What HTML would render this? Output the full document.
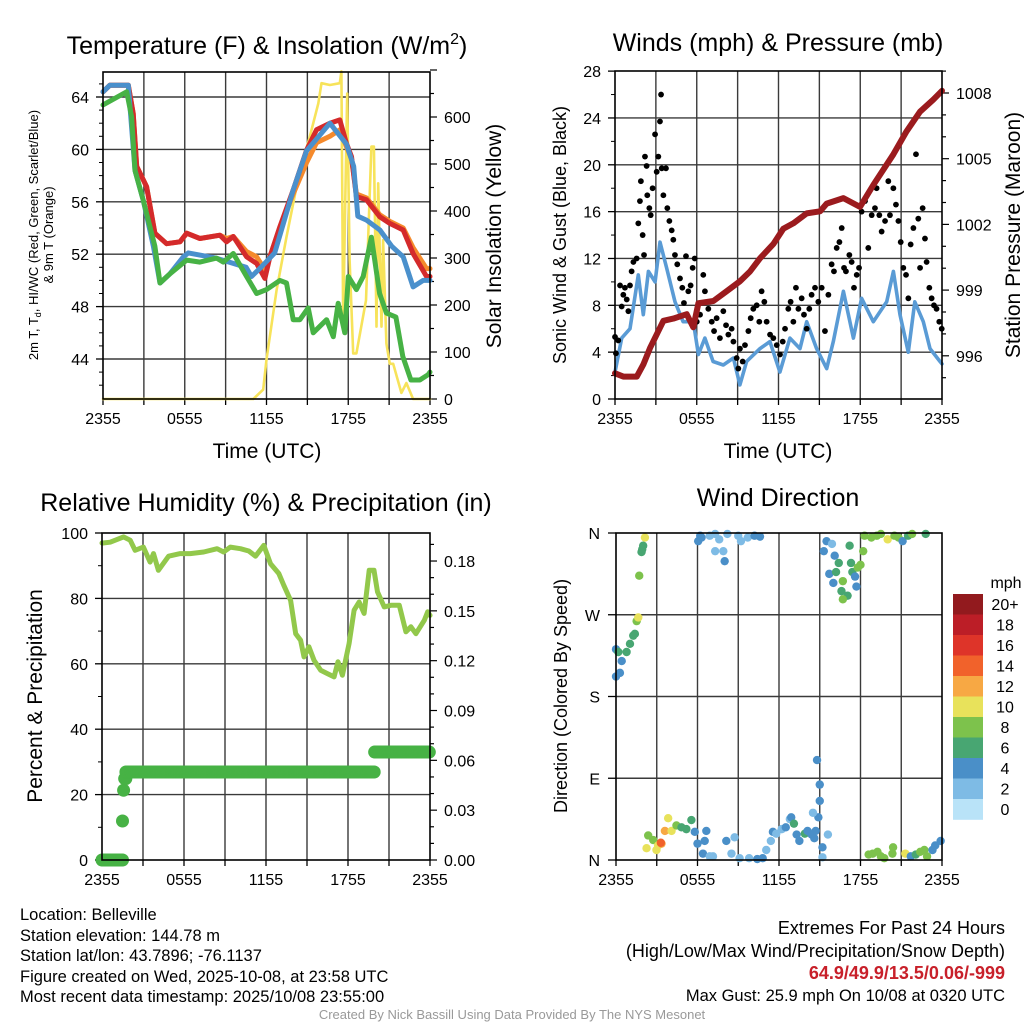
<!DOCTYPE html>
<html><head><meta charset="utf-8"><style>
body{margin:0;background:#fff;width:1024px;height:1024px;overflow:hidden;font-family:"Liberation Sans",sans-serif}
svg{display:block}
</style></head><body>
<svg id="s" width="1024" height="1024" viewBox="0 0 1024 1024" xmlns="http://www.w3.org/2000/svg" font-family="Liberation Sans, sans-serif"></svg>
<script>
// ---------- DATA ----------
const xTickLabels=["2355","0555","1155","1755","2355"];
const tempTimes=[0,0.51,1.86,2.22,2.47,3.2,3.81,4.67,5.65,6.14,7.11,8.58,9.07,9.56,10.54,11.27,11.88,12.25,12.98,13.96,14.94,15.67,16.65,17.38,17.87,18.24,18.6,19.34,20.32,21.05,22.03,22.76,23.74,24];
const tempRed=[64.4,64.9,64.9,62.75,58.7,57.15,53.6,52.8,52.95,53.6,53.2,53.45,52.95,53.35,51.8,51.3,50.15,51.8,54.1,56.9,59.95,61.5,62.0,62.25,60.45,59.45,56.4,56.15,54.85,54.35,53.85,52.05,50.3,50.3];
const tempOrange=[64.4,64.9,64.9,62.75,58.7,57.15,53.6,52.8,52.95,53.6,53.2,53.45,53.2,53.35,52.2,51.8,50.8,51.8,54.0,56.6,59.0,60.5,61.0,61.5,60.2,59.3,56.6,56.3,55.0,54.5,54.0,52.5,50.9,50.9];
const dewTimes=[0,1.74,2.1,2.35,2.96,3.81,4.18,4.9,6.14,7.11,8.34,8.83,9.56,10.54,11.27,12.0,12.98,13.47,13.96,14.45,15.06,15.43,16.41,16.9,17.26,17.75,18.0,18.6,19.1,19.7,20.3,20.8,21.5,22.0,22.6,23.25,23.86,24];
const tempDew=[63.4,64.4,62.5,58.4,56.1,52.6,49.8,50.5,51.55,51.4,51.7,51.4,52.05,50.3,49.0,49.3,50.0,49.8,47.0,47.0,47.9,46.0,47.0,45.7,48.25,46.0,50.3,49.3,50.3,53.3,49.0,47.5,47.2,44.2,42.4,42.4,42.8,43.0];
const hiTimes=[0,0.51,1.86,2.35,2.96,3.7,4.18,4.9,5.9,6.26,8.3,10.5,10.9,11.6,12.6,13.96,14.94,16.65,17.87,18.4,18.7,19.34,20.32,21.2,22.03,22.76,23.5,24];
const tempHI=[64.4,64.9,64.9,58.4,56.1,52.6,49.8,50.5,51.8,52.1,51.7,51.0,50.3,51.0,52.1,56.9,59.9,62.0,60.4,58.7,54.9,54.6,53.85,52.6,51.8,49.5,50.0,50.0];
const solarTimes=[0,11.03,11.76,12.0,12.74,13.47,14.45,15.18,15.8,16.04,16.65,17.38,17.5,17.63,17.75,17.92,18.1,18.36,18.6,19.3,19.7,19.88,20.07,20.2,20.44,20.56,20.8,21.05,21.3,21.9,22.27,22.76,24];
const solarVals=[0,0,20,84,232,345,487,558,629,672,668,672,697,154,367,650,296,97,97,210,537,537,154,459,154,338,118,75,75,13,34,0,0];
const presTimes=[0,0.61,1.6,2.08,2.57,3.55,4.28,5.26,5.75,6.12,7.22,8.2,9.17,9.91,10.64,11.62,12.35,13.09,14.07,15.05,15.54,16.76,17.98,18.96,20.43,21.4,22.39,23.36,24];
const presVals=[995.2,995.05,995.05,995.6,996.35,997.6,997.7,997.9,997.3,998.4,998.5,998.95,999.4,999.85,1000.45,1001.1,1001.8,1002.05,1002.5,1002.6,1002.95,1003.2,1002.8,1003.8,1005.2,1006.25,1007.15,1007.7,1008.1];
const windTimes=[0,0.49,1.1,1.71,2.08,2.45,2.94,3.3,3.79,4.4,5.0,5.75,6.12,6.6,7.2,7.95,8.69,9.17,9.66,10.64,11.37,12.1,12.84,13.58,14.07,14.8,15.54,16.02,16.76,17.5,18.1,18.96,19.94,20.43,20.92,21.53,22.0,22.63,23.12,23.85,24];
const windVals=[2.3,5.2,6.0,10.6,7.2,10.9,10.0,13.4,11.2,8.3,6.6,6.6,3.8,5.2,3.2,2.9,3.5,1.2,3.2,4.3,4.9,2.3,5.2,4.3,6.6,4.3,2.6,4.9,9.2,5.2,8.6,6.6,8.3,10.9,7.2,4.0,8.3,6.6,4.3,3.2,3.0];
const gustTimes=[0,0.07,0.24,0.37,0.49,0.61,0.73,0.86,0.98,1.1,1.22,1.35,1.59,1.71,1.83,1.9,2.03,2.13,2.2,2.32,2.37,2.52,2.62,2.76,2.94,3.06,3.18,3.3,3.38,3.43,3.55,3.74,3.84,3.99,4.16,4.28,4.4,4.57,4.77,4.94,5.06,5.21,5.38,5.55,5.7,5.85,6.0,6.24,6.48,6.6,6.85,7.1,7.27,7.46,7.7,7.95,8.15,8.32,8.56,8.69,8.93,9.05,9.17,9.37,9.54,9.79,9.96,10.15,10.4,10.59,10.76,10.96,11.13,11.38,11.62,11.87,12.11,12.31,12.48,12.72,12.89,13.09,13.28,13.46,13.7,13.87,14.07,14.26,14.43,14.68,14.92,15.17,15.41,15.66,15.9,16.07,16.27,16.47,16.64,16.81,16.95,17.2,17.37,17.54,17.74,17.91,18.1,18.35,18.59,18.84,19.08,19.2,19.4,19.57,19.82,20.06,20.18,20.43,20.62,20.8,20.97,21.16,21.36,21.53,21.7,21.9,22.09,22.26,22.39,22.58,22.75,22.87,23.07,23.24,23.41,23.6,23.8,23.98];
const gustVals=[5.3,3.9,5.0,9.7,7.9,8.9,9.5,8.5,7.5,9.7,10.9,11.7,12.0,15.0,16.9,18.6,14.0,12.3,20.7,19.9,17.4,16.3,15.7,18.0,22.6,19.4,20.7,23.7,26.0,19.7,17.4,19.7,16.3,15.2,14.4,13.6,12.3,11.5,10.3,9.5,8.2,12.2,9.2,9.7,11.2,12.0,6.6,7.2,10.6,9.2,7.7,6.6,5.8,6.9,5.2,7.5,6.3,5.5,6.0,4.9,3.5,2.6,4.3,3.2,4.6,5.8,6.9,7.7,8.0,6.6,9.2,8.3,6.6,5.5,5.2,4.6,3.8,4.9,6.0,7.7,8.3,6.6,9.5,7.7,8.6,7.2,6.0,7.7,8.9,9.5,8.3,9.5,5.8,8.9,11.5,10.9,12.9,13.4,14.6,11.2,10.9,12.3,11.7,9.5,10.6,11.2,16.0,16.9,12.9,15.7,16.3,18.0,15.7,14.3,15.2,18.6,15.7,18.0,16.6,15.2,13.4,11.2,10.6,8.6,13.2,14.6,20.9,15.4,11.2,16.3,13.7,11.7,9.5,8.6,8.0,7.7,6.6,6.0];
const rhTimes=[0,0.6,1.57,2.06,2.42,3.03,3.52,3.77,4.13,4.87,5.72,6.46,7.44,8.42,8.9,9.39,10.13,10.74,11.23,11.84,12.33,12.94,13.3,13.8,14.17,14.53,14.78,15.14,15.51,16.0,16.49,16.98,17.27,17.59,18.08,18.45,18.81,19.18,19.55,19.9,20.16,20.65,21.14,21.75,22.24,22.6,22.97,23.58,23.83,24];
const rhVals=[96.9,97.2,98.8,97.8,94.7,95.7,91.1,93.7,88.6,92.9,93.7,93.7,94.2,95.2,94.2,95.7,95.2,94.5,92.9,96.2,90.6,87.6,84.0,79.4,69.2,67.2,62.1,65.2,61.1,58.0,57.0,56.0,60.6,56.5,66.2,76.4,78.9,75.4,88.6,88.6,82.0,77.4,77.9,77.9,69.8,71.3,69.2,73.3,75.9,74.8];
const precipStepTimes=[0,1.5,1.58,1.66,1.75,19.95];
const precipStepVals=[0,0.0235,0.042,0.049,0.053,0.065];
const dirTimes=[0,0.29,0.42,0,0.17,0.78,1.03,1.27,1.39,1.52,1.64,1.71,1.88,2.0,2.13,1.93,2.25,2.37,2.74,2.98,3.1,3.35,3.3,3.6,3.84,4.09,4.45,4.82,5.18,5.55,5.8,6.0,6.53,6.4,6.65,6.9,7.14,8.12,8.5,8.73,9.1,9.8,10.4,10.8,11.06,11.4,11.55,11.8,12.2,12.5,12.8,12.9,13.1,13.3,13.5,13.9,14.1,14.4,14.6,14.7,14.9,15.0,15.0,14.8,14.5,15.2,15.6,15.2,6.05,6.2,6.3,6.9,7.3,7.6,7.9,8.0,7.3,8.2,9.0,9.2,9.7,10.2,10.6,15.5,15.3,15.9,16.1,15.7,16.0,16.2,16.4,16.7,16.6,17.05,16.7,17.2,17.3,17.4,17.6,17.7,17.8,18.0,18.2,18.3,18.8,19.2,19.5,20.0,20.5,20.8,21.1,21.5,21.8,22.8,18.6,18.9,19.25,19.5,19.75,20.35,20.4,21.3,21.7,22.07,22.4,22.7,22.9,23.3,23.5,23.9];
const dirVals=[202,206,219,232,229,229,238,247,249,263,267,313,339,346,355,342,13,27,22,11,16,18,19,32,46,32,38,36,34,44,31,18,21,7,32,4,4,21,7,25,2,2,1,2,11,21,31,29,34,36,45,47,40,28,21,29,32,28,24,32,47,65,83,110,52,14,28,3,351,357,355,357,359,353,340,329,340,359,357,351,355,357,356,351,340,348,335,315,305,317,327,307,296,291,287,346,327,317,312,301,322,325,340,357,355,357,359,353,357,355,351,357,359,359,6,7,9,4,2,7,14,7,4,6,9,11,4,11,16,21];
const dirSpeeds=[5,5,5,5,7,7,7,7,7,9,11,9,7,7,11,7,11,9,9,11,11,13,15,13,11,11,9,7,7,7,5,5,5,5,5,3,3,5,3,3,3,3,5,5,3,3,5,3,3,5,3,5,7,5,5,7,5,5,5,5,5,5,5,5,3,5,3,3,5,5,5,3,3,3,3,5,3,3,3,3,3,5,5,5,5,3,5,5,5,7,7,9,7,7,9,7,7,7,5,5,9,9,9,9,9,9,9,11,9,9,5,7,9,7,9,9,9,9,9,9,9,11,5,7,9,9,9,5,5,5,5];
const cbLabels=["20+","18","16","14","12","10","8","6","4","2","0"];
const cbColors=["#921a1e","#bc1e27","#de3429","#f1622b","#f7a844","#e8e25b","#7dc24c","#48a672","#4a8fc8","#7ebbe5","#b9e3f8"];

// ---------- HELPERS ----------
const S=document.getElementById('s');const NS='http://www.w3.org/2000/svg';
const TF=16; // tick font
function mk(tag,at,parent){const e=document.createElementNS(NS,tag);for(const k in at)e.setAttribute(k,at[k]);(parent||S).appendChild(e);return e;}
function txt(str,x,y,size,anchor,parent,extra){const e=mk('text',Object.assign({x:x,y:y,'font-size':size,'text-anchor':anchor||'middle',fill:'#000'},extra||{}),parent);e.textContent=str;return e;}
function line(x1,y1,x2,y2,stroke,w,parent){return mk('line',{x1,y1,x2,y2,stroke,'stroke-width':w},parent);}
function path(ts,vs,X,Y,color,w,parent){let d='';for(let i=0;i<ts.length;i++){d+=(i?'L':'M')+X(ts[i]).toFixed(1)+','+Y(vs[i]).toFixed(1);}return mk('path',{d:d,fill:'none',stroke:color,'stroke-width':w,'stroke-linejoin':'round','stroke-linecap':'round'},parent);}

function panel(name,L,R,T,B){
  const g=mk('g',{});
  
  
  const X=h=>L+(R-L)*h/24;
  for(let k=1;k<8;k++){const l=line(X(k*3),T,X(k*3),B,'#3a3a3a',1.4,g);}
  for(let k=0;k<=8;k++){line(X(k*3),B,X(k*3),B+6,'#000',1.3,g);}
  xTickLabels.forEach((lab,i)=>{const t=txt(lab,X(i*6),B+25,TF,'middle',g);});
  return {g,X};
}
function frame(g,L,R,T,B){const r=mk('rect',{x:L,y:T,width:R-L,height:B-T,fill:'none',stroke:'#000','stroke-width':1.6},g);}

// ---------- PANEL 1: TEMPERATURE ----------
(function(){
  const L=103,R=430,T=72,B=399;
  const {g,X}=panel('temperature-panel',L,R,T,B);
  const Y=t=>97+(64-t)*13.1;
  const Ys=w=>399-w*0.47;
  [44,48,52,56,60,64].forEach(v=>{line(L,Y(v),R,Y(v),'#3a3a3a',1.4,g);line(L-7,Y(v),L,Y(v),'#000',1.3,g);const t=txt(String(v),L-14,Y(v)+6,TF,'end',g);});
  [42,43,45,46,47,49,50,51,53,54,55,57,58,59,61,62,63,65].forEach(v=>line(L-4,Y(v),L,Y(v),'#000',1,g));
  for(let w=0;w<=700;w+=50){const maj=w%100===0;line(R,Ys(w),R+(maj?7:4),Ys(w),'#000',1.2,g);if(maj&&w<=600){const t=txt(String(w),R+14,Ys(w)+6,TF,'start',g);}}
  let p;
  p=path(solarTimes,solarVals,X,Ys,'#f7e35a',2.6,g);
  p=path(tempTimes,tempOrange,X,Y,'#f58a2c',5,g);
  p=path(tempTimes,tempRed,X,Y,'#d42a2b',5,g);
  p=path(hiTimes,tempHI,X,Y,'#4a90cc',5,g);
  p=path(dewTimes,tempDew,X,Y,'#47b245',5,g);
  frame(g,L,R,T,B);
  let t=mk('text',{x:267,y:54,'font-size':25,'text-anchor':'middle'},g);t.innerHTML='Temperature (F) &amp; Insolation (W/m<tspan dy="-10" font-size="16">2</tspan><tspan dy="10">)</tspan>';
  t=txt('Time (UTC)',267,458,21,'middle',g);
  t=mk('text',{x:0,y:0,'font-size':13,'text-anchor':'middle',transform:'translate(38,235) rotate(-90)'},g);t.innerHTML='2m T, T<tspan dy="3" font-size="9">d</tspan><tspan dy="-3">, HI/WC (Red, Green, Scarlet/Blue)</tspan>';
  t=txt('& 9m T (Orange)',0,0,13,'middle',g,{transform:'translate(53,235) rotate(-90)'});
  t=txt('Solar Insolation (Yellow)',0,0,21,'middle',g,{transform:'translate(501,236) rotate(-90)'});
})();

// ---------- PANEL 2: WINDS ----------
(function(){
  const L=615,R=942,T=71,B=399;
  const {g,X}=panel('winds-panel',L,R,T,B);
  const Y=v=>399-v*11.71;
  const Yp=p=>93+(1008-p)*21.9;
  [4,8,12,16,20,24].forEach(v=>line(L,Y(v),R,Y(v),'#3a3a3a',1.4,g));
  [0,4,8,12,16,20,24,28].forEach(v=>{line(L-7,Y(v),L,Y(v),'#000',1.3,g);const t=txt(String(v),L-14,Y(v)+6,TF,'end',g);});
  [2,6,10,14,18,22,26].forEach(v=>line(L-4,Y(v),L,Y(v),'#000',1,g));
  for(let p=995;p<=1009;p++){const maj=(p-996)%3===0;line(R,Yp(p),R+(maj?7:4),Yp(p),'#000',1.2,g);if(maj){const t=txt(String(p),R+14,Yp(p)+6,TF,'start',g);}}
  let p=path(windTimes,windVals,X,Y,'#5a9bd5',3.6,g);
  gustTimes.forEach((h,i)=>{const c=mk('circle',{cx:X(h),cy:Y(gustVals[i]),r:2.9,fill:'#000'},g);});
  p=path(presTimes,presVals,X,Yp,'#9b1b1e',6,g);
  frame(g,L,R,T,B);
  let t=txt('Winds (mph) & Pressure (mb)',778,51,25,'middle',g);
  t=txt('Time (UTC)',778,458,21,'middle',g);
  t=txt('Sonic Wind & Gust (Blue, Black)',0,0,18,'middle',g,{transform:'translate(566,235) rotate(-90)'});
  t=txt('Station Pressure (Maroon)',0,0,21,'middle',g,{transform:'translate(1020,235) rotate(-90)'});
})();

// ---------- PANEL 3: RH ----------
(function(){
  const L=102,R=430,T=533,B=860;
  const {g,X}=panel('humidity-panel',L,R,T,B);
  const Y=v=>860-v*3.27;
  const Yp=p=>860-p*1661;
  [20,40,60,80].forEach(v=>line(L,Y(v),R,Y(v),'#3a3a3a',1.4,g));
  [0,20,40,60,80,100].forEach(v=>{line(L-7,Y(v),L,Y(v),'#000',1.3,g);const t=txt(String(v),L-14,Y(v)+6,TF,'end',g);});
  [10,30,50,70,90].forEach(v=>line(L-4,Y(v),L,Y(v),'#000',1,g));
  for(let k=0;k<=19;k++){const p=k*0.01;const maj=k%3===0;line(R,Yp(p),R+(maj?7:4),Yp(p),'#000',1.2,g);if(maj){const t=txt(p.toFixed(2),R+14,Yp(p)+6,TF,'start',g);}}
  let p=path(rhTimes,rhVals,X,Y,'#92c84b',5,g);
  for(let i=0;i<precipStepTimes.length;i++){
    const t0=precipStepTimes[i],t1=(i+1<precipStepTimes.length)?precipStepTimes[i+1]:24.001;
    for(let h=t0;h<t1;h+=1/12){const c=mk('circle',{cx:X(h),cy:Yp(precipStepVals[i]),r:6.5,fill:'#47b245'},g);}
  }
  frame(g,L,R,T,B);
  let t=txt('Relative Humidity (%) & Precipitation (in)',266,511,25,'middle',g);
  t=txt('Percent & Precipitation',0,0,21,'middle',g,{transform:'translate(42,696) rotate(-90)'});
})();

// ---------- PANEL 4: WIND DIRECTION ----------
(function(){
  const L=616,R=942,T=533,B=860;
  const {g,X}=panel('wind-direction-panel',L,R,T,B);
  const Y=d=>860-d*(327/360);
  [90,180,270].forEach(v=>line(L,Y(v),R,Y(v),'#3a3a3a',1.4,g));
  [[0,'N'],[90,'E'],[180,'S'],[270,'W'],[360,'N']].forEach(([v,l])=>{line(L-8,Y(v),L,Y(v),'#000',1.3,g);const t=txt(l,L-16,Y(v)+6,TF,'end',g);});
  dirTimes.forEach((h,i)=>{const idx=Math.min(10,Math.floor(dirSpeeds[i]/2));const c=mk('circle',{cx:X(h),cy:Y(dirVals[i]),r:4.2,fill:cbColors[10-idx]},g);});
  frame(g,L,R,T,B);
  let t=txt('Wind Direction',778,506,25,'middle',g);
  t=txt('Direction (Colored By Speed)',0,0,18,'middle',g,{transform:'translate(567,696) rotate(-90)'});
  const cb=mk('g',{},S);
  
  
  cbColors.forEach((c,i)=>{const r=mk('rect',{x:953,y:594+i*20.5,width:30,height:20.8,fill:c},cb);});
  cbLabels.forEach((l,i)=>{const tt=txt(l,1005,610+i*20.5,16,'middle',cb);});
  t=txt('mph',1006,588,16,'middle',cb);
})();
</script>
<div style="position:absolute;left:0;top:0;width:1024px;height:1024px;pointer-events:none">
<div style="position:absolute;left:20px;top:905px;font-size:16.5px;line-height:20.5px;color:#000">
<div>Location: Belleville</div>
<div>Station elevation: 144.78 m</div>
<div>Station lat/lon: 43.7896; -76.1137</div>
<div>Figure created on Wed, 2025-10-08, at 23:58 UTC</div>
<div>Most recent data timestamp: 2025/10/08 23:55:00</div>
</div>
<div style="position:absolute;right:19px;top:917px;font-size:18px;line-height:22.7px;text-align:right;color:#000">
<div>Extremes For Past 24 Hours</div>
<div>(High/Low/Max Wind/Precipitation/Snow Depth)</div>
<div style="color:#c8202a;font-weight:bold">64.9/49.9/13.5/0.06/-999</div>
<div style="font-size:16.5px">Max Gust: 25.9 mph On 10/08 at 0320 UTC</div>
</div>
<div style="position:absolute;left:0;width:1024px;top:1007px;text-align:center;font-size:13px;color:#999">Created By Nick Bassill Using Data Provided By The NYS Mesonet</div>
</div>
</body></html>
